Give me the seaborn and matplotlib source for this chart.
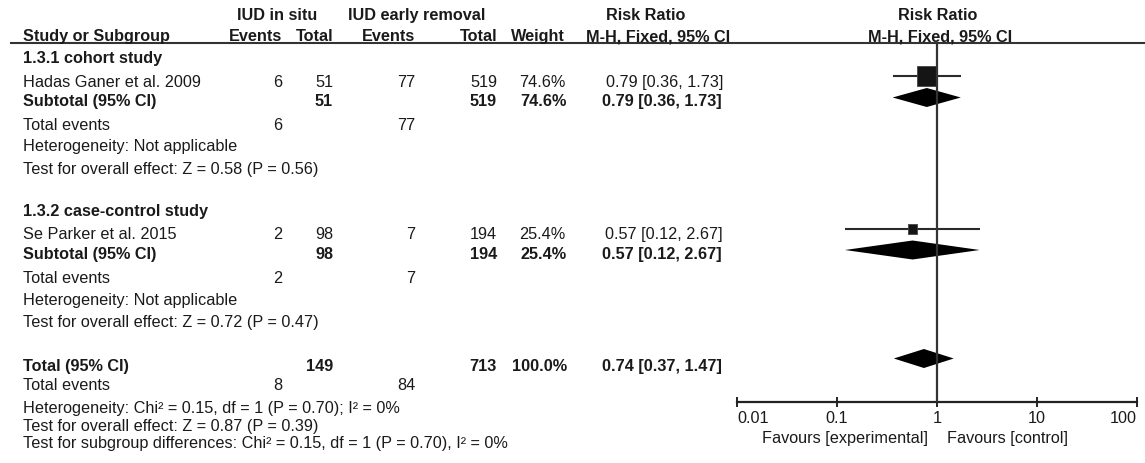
import matplotlib
matplotlib.use("Agg")
import matplotlib.pyplot as plt
import numpy as np
import pandas as pd
import seaborn as sns

sns.set_theme(style="white")
plt.rcParams["font.family"] = ["Liberation Sans", "DejaVu Sans"]

# ---- data -------------------------------------------------------------
groups = ["1.3.1 cohort study", "1.3.2 case-control study"]
studies = ["Hadas Ganer et al. 2009", "Se Parker et al. 2015"]
events_insitu = [6, 2]
total_insitu = [51, 98]
events_removal = [77, 7]
total_removal = [519, 194]
weights = [74.6, 25.4]
rr = [0.79, 0.57]
ci_low = [0.36, 0.12]
ci_high = [1.73, 2.67]

group_heterogeneity = ["Not applicable", "Not applicable"]
group_overall = ["Z = 0.58 (P = 0.56)", "Z = 0.72 (P = 0.47)"]

total_rr, total_low, total_high = 0.74, 0.37, 1.47
total_heterogeneity = "Chi\u00b2 = 0.15, df = 1 (P = 0.70); I\u00b2 = 0%"
total_overall = "Z = 0.87 (P = 0.39)"
subgroup_diff = "Chi\u00b2 = 0.15, df = 1 (P = 0.70), I\u00b2 = 0%"

tick_values = [0.01, 0.1, 1, 10, 100]
tick_labels = ["0.01", "0.1", "1", "10", "100"]

# ---- layout (pixel rows on a 1145 x 463 canvas) ------------------------
W, H = 1145, 463
group_rows = [63, 216]          # baselines of subgroup titles
study_rows = [87, 239]
subtotal_rows = [106, 259]
events_rows = [130, 283]
het_rows = [151, 305]
overall_rows = [174, 327]
study_mark_y = [76, 229]
subtotal_mark_y = [97.5, 250]
total_row, total_events_row, total_het_row, total_overall_row, subgroup_row = 371, 390, 413, 431, 448
total_mark_y = 358.5

col_events1, col_total1, col_events2, col_total2, col_weight, col_ci = 282, 333, 415, 497, 565, 723
left_x = 23
FS = 11.7
TEXT = "#1a1a1a"

fig = plt.figure(figsize=(W / 100, H / 100), dpi=100)
fig.patch.set_facecolor("white")

# text layer in pixel coordinates
tx = fig.add_axes([0, 0, 1, 1])
tx.set_xlim(0, W)
tx.set_ylim(H, 0)
tx.axis("off")


def put(x, y, s, ha="left", bold=False, size=FS):
    tx.text(x, y, s, ha=ha, va="baseline", fontsize=size,
            fontweight="bold" if bold else "normal", color=TEXT)


# header
put(277, 20, "IUD in situ", ha="center", bold=True)
put(417, 20, "IUD early removal", ha="center", bold=True)
put(646, 20, "Risk Ratio", ha="center", bold=True)
put(938, 20, "Risk Ratio", ha="center", bold=True)
put(left_x, 41, "Study or Subgroup", bold=True)
put(col_events1, 41, "Events", ha="right", bold=True)
put(col_total1, 41, "Total", ha="right", bold=True)
put(col_events2, 41, "Events", ha="right", bold=True)
put(col_total2, 41, "Total", ha="right", bold=True)
put(col_weight, 41, "Weight", ha="right", bold=True)
put(730, 41, "M-H, Fixed, 95% CI", ha="right", bold=True)
put(940, 41, "M-H, Fixed, 95% CI", ha="center", bold=True)
tx.plot([10, W], [42.5, 42.5], color="#333333", lw=1.5, solid_capstyle="butt")


def ci_text(m, lo, hi):
    return f"{m:.2f} [{lo:.2f}, {hi:.2f}]"


for i in range(len(studies)):
    put(left_x, group_rows[i], groups[i], bold=True)
    # study row
    put(left_x, study_rows[i], studies[i])
    put(col_events1, study_rows[i], str(events_insitu[i]), ha="right")
    put(col_total1, study_rows[i], str(total_insitu[i]), ha="right")
    put(col_events2, study_rows[i], str(events_removal[i]), ha="right")
    put(col_total2, study_rows[i], str(total_removal[i]), ha="right")
    put(col_weight, study_rows[i], f"{weights[i]:.1f}%", ha="right")
    put(col_ci, study_rows[i], ci_text(rr[i], ci_low[i], ci_high[i]), ha="right")
    # subtotal row
    put(left_x, subtotal_rows[i], "Subtotal (95% CI)", bold=True)
    put(col_total1, subtotal_rows[i], str(total_insitu[i]), ha="right", bold=True)
    put(col_total2, subtotal_rows[i], str(total_removal[i]), ha="right", bold=True)
    put(col_weight + 2, subtotal_rows[i], f"{weights[i]:.1f}%", ha="right", bold=True)
    put(col_ci - 1, subtotal_rows[i], ci_text(rr[i], ci_low[i], ci_high[i]), ha="right", bold=True)
    # events / tests
    put(left_x, events_rows[i], "Total events")
    put(col_events1, events_rows[i], str(events_insitu[i]), ha="right")
    put(col_events2, events_rows[i], str(events_removal[i]), ha="right")
    put(left_x, het_rows[i], "Heterogeneity: " + group_heterogeneity[i])
    put(left_x, overall_rows[i], "Test for overall effect: " + group_overall[i])

# overall rows
put(left_x, total_row, "Total (95% CI)", bold=True)
put(col_total1, total_row, str(sum(total_insitu)), ha="right", bold=True)
put(col_total2, total_row, str(sum(total_removal)), ha="right", bold=True)
put(col_weight + 2, total_row, f"{sum(weights):.1f}%", ha="right", bold=True)
put(col_ci - 1, total_row, ci_text(total_rr, total_low, total_high), ha="right", bold=True)
put(left_x, total_events_row, "Total events")
put(col_events1, total_events_row, str(sum(events_insitu)), ha="right")
put(col_events2, total_events_row, str(sum(events_removal)), ha="right")
put(left_x, total_het_row, "Heterogeneity: " + total_heterogeneity)
put(left_x, total_overall_row, "Test for overall effect: " + total_overall)
put(left_x, subgroup_row, "Test for subgroup differences: " + subgroup_diff)

# ---- forest panel ------------------------------------------------------
x0, x1, y_top, y_axis = 737, 1137, 42.5, 402
ax = fig.add_axes([x0 / W, (H - y_axis) / H, (x1 - x0) / W, (y_axis - y_top) / H])
ax.set_facecolor("none")
ax.set_xscale("log")
ax.set_xlim(tick_values[0], tick_values[-1])
ax.set_ylim(y_axis, y_top)

# confidence intervals
ax.hlines(study_mark_y, ci_low, ci_high, color="#2a2a2a", lw=1.5, zorder=2)

# study squares sized by weight
df = pd.DataFrame({"rr": rr, "y": study_mark_y, "weight": weights})
sns.scatterplot(data=df, x="rr", y="y", size="weight", sizes=(45, 210), marker="s",
                color="#151515", edgecolor="#444444", linewidth=0.6, legend=False,
                ax=ax, zorder=3)


def diamond(m, lo, hi, yc, half=9.5):
    ax.fill([lo, m, hi, m], [yc, yc - half, yc, yc + half], color="black", lw=0, zorder=3)


for i in range(len(studies)):
    diamond(rr[i], ci_low[i], ci_high[i], subtotal_mark_y[i])
diamond(total_rr, total_low, total_high, total_mark_y)

# line of no effect
ax.axvline(1, color="#333333", lw=1.6, zorder=4)

for side in ["left", "right", "top"]:
    ax.spines[side].set_visible(False)
ax.spines["bottom"].set_color("#222222")
ax.spines["bottom"].set_linewidth(1.6)
ax.set_yticks([])
ax.set_xticks(tick_values)
ax.set_xticklabels(tick_labels)
ax.xaxis.set_minor_locator(matplotlib.ticker.NullLocator())
ax.tick_params(axis="x", which="major", direction="inout", length=7.5, width=1.4,
               color="#222222", pad=3, labelsize=FS, labelcolor=TEXT, bottom=True)
labels = ax.get_xticklabels()
labels[0].set_horizontalalignment("left")
labels[-1].set_horizontalalignment("right")
ax.set_xlabel("")
ax.set_ylabel("")
ax.grid(False)

put(928, 443, "Favours [experimental]", ha="right")
put(947, 443, "Favours [control]", ha="left")

fig.savefig("out.png", dpi=100, facecolor="white")
